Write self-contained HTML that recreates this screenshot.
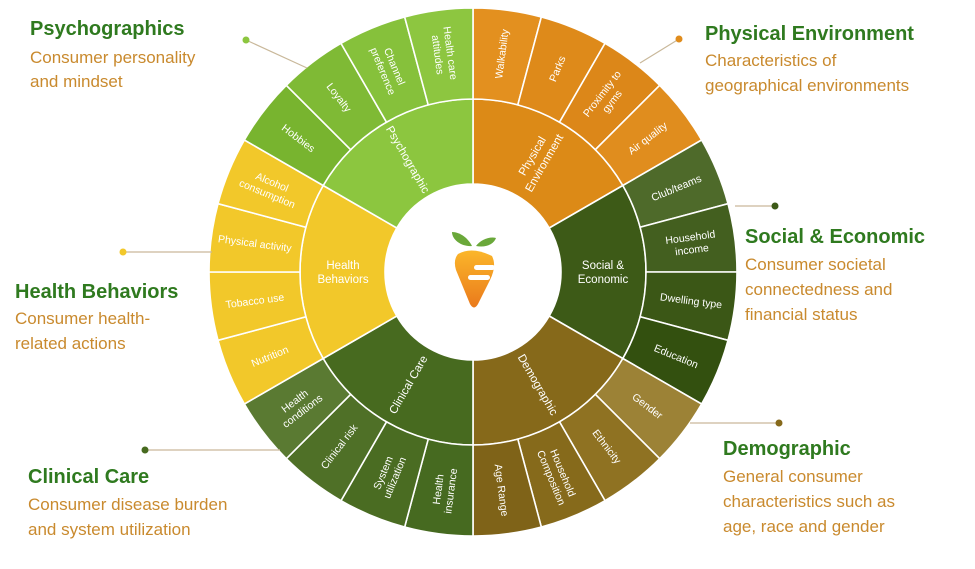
<!DOCTYPE html>
<html><head><meta charset="utf-8"><style>
html,body{margin:0;padding:0;background:#fff;}
svg{display:block;font-family:"Liberation Sans",sans-serif;}
.t{font-weight:bold;font-size:20px;fill:#2f7a1f;}
.s{font-size:17px;fill:#c98a2e;}
</style></head><body>
<svg id="s" width="975" height="569" viewBox="0 0 975 569" xmlns="http://www.w3.org/2000/svg">
<defs>
<linearGradient id="cg" x1="0" y1="0" x2="0" y2="1"><stop offset="0" stop-color="#fbb62a"/><stop offset="1" stop-color="#ea7a1c"/></linearGradient>
</defs>
<g id="ring"></g>
<circle cx="473" cy="272" r="88" fill="#fff"/>
<!-- carrot -->
<path d="M452,232 C452,240 462,247 472,246 C468,238 460,232 452,232Z" fill="#6aa83a"/>
<path d="M496,238 C490,236 480,240 476,246 C486,248 494,244 496,238Z" fill="#6aa83a"/>
<path d="M458,254 Q472,246 492,256 Q497,266 490,280 L478,304 Q474,311 470,304 L456,270 Q453,260 458,254Z" fill="url(#cg)"/>
<rect x="474" y="265" width="21" height="5" rx="2.5" fill="#fff"/>
<rect x="468" y="275" width="22" height="5" rx="2.5" fill="#fff"/>
<g id="lbl"></g>
<!-- callouts -->
<g stroke="#c9b89a" stroke-width="1.2">
<line x1="246" y1="40" x2="307" y2="68"/><line x1="679" y1="39" x2="640" y2="63"/>
<line x1="775" y1="206" x2="735" y2="206"/><line x1="779" y1="423" x2="690" y2="423"/>
<line x1="145" y1="450" x2="280" y2="450"/><line x1="123" y1="252" x2="212" y2="252"/>
</g>
<circle cx="246" cy="40" r="3.5" fill="#8cc63f"/><circle cx="679" cy="39" r="3.5" fill="#e08c1c"/>
<circle cx="775" cy="206" r="3.5" fill="#3d5a17"/><circle cx="779" cy="423" r="3.5" fill="#86691a"/>
<circle cx="145" cy="450" r="3.5" fill="#476a1f"/><circle cx="123" cy="252" r="3.5" fill="#f2c82a"/>
<text class="t" x="30" y="35">Psychographics</text>
<text class="s" x="30" y="63">Consumer personality</text><text class="s" x="30" y="87">and mindset</text>
<text class="t" x="705" y="40">Physical Environment</text>
<text class="s" x="705" y="66">Characteristics of</text><text class="s" x="705" y="91">geographical environments</text>
<text class="t" x="745" y="243">Social &amp; Economic</text>
<text class="s" x="745" y="270">Consumer societal</text><text class="s" x="745" y="295">connectedness and</text><text class="s" x="745" y="320">financial status</text>
<text class="t" x="15" y="298">Health Behaviors</text>
<text class="s" x="15" y="324">Consumer health-</text><text class="s" x="15" y="349">related actions</text>
<text class="t" x="723" y="455">Demographic</text>
<text class="s" x="723" y="482">General consumer</text><text class="s" x="723" y="507">characteristics such as</text><text class="s" x="723" y="532">age, race and gender</text>
<text class="t" x="28" y="483">Clinical Care</text>
<text class="s" x="28" y="510">Consumer disease burden</text><text class="s" x="28" y="535">and system utilization</text>
</svg>
<script>
var cx=473,cy=272,R0=88,R1=173,R2=264,NS="http://www.w3.org/2000/svg";
function pt(r,a){a=a*Math.PI/180;return [cx+r*Math.sin(a),cy-r*Math.cos(a)];}
function arc(r1,r2,a1,a2){var p1=pt(r2,a1),p2=pt(r2,a2),p3=pt(r1,a2),p4=pt(r1,a1);
return "M"+p1+"A"+r2+","+r2+" 0 0 1 "+p2+"L"+p3+"A"+r1+","+r1+" 0 0 0 "+p4+"Z";}
var secs=[
["Physical\nEnvironment","#dc8a17",[["Walkability","#e3901f"],["Parks","#de8a1a"],["Proximity to\ngyms","#dc8719"],["Air quality","#e08d1e"]]],
["Social &\nEconomic","#3d5a17",[["Club/teams","#4e6a2a"],["Household\nincome","#435f1f"],["Dwelling type","#3b5716"],["Education","#33500f"]]],
["Demographic","#86691a",[["Gender","#9c8236"],["Ethnicity","#8f7222"],["Household\nComposition","#866a1b"],["Age Range","#7f6318"]]],
["Clinical Care","#476a1f",[["Health\ninsurance","#466a20"],["System\nutilization","#4a6c22"],["Clinical risk","#4f7027"],["Health\nconditions","#5a7a32"]]],
["Health\nBehaviors","#f2c82a",[["Nutrition","#f2c82a"],["Tobacco use","#f2c82a"],["Physical activity","#f2c82a"],["Alcohol\nconsumption","#f2c82a"]]],
["Psychographic","#8cc63f",[["Hobbies","#78b42f"],["Loyalty","#7fba35"],["Channel\npreference","#86c13b"],["Health care\nattitudes","#8dc640"]]]];
var ring=document.getElementById("ring"),lbl=document.getElementById("lbl");
function addPath(d,f){var p=document.createElementNS(NS,"path");p.setAttribute("d",d);p.setAttribute("fill",f);p.setAttribute("stroke","#fff");p.setAttribute("stroke-width","1.6");ring.appendChild(p);}
function addText(s,r,a,fs){var p=pt(r,a);var rot=(a<180)?a-90:a-270;
var t=document.createElementNS(NS,"text");t.setAttribute("transform","translate("+p[0]+","+p[1]+") rotate("+rot+")");
t.setAttribute("fill","#fff");t.setAttribute("font-size",fs);t.setAttribute("text-anchor","middle");
var L=s.split("\n");L.forEach(function(l,i){var ts=document.createElementNS(NS,"tspan");ts.setAttribute("x",0);
ts.setAttribute("y",(i-(L.length-1)/2)*fs*1.2+fs*0.35);ts.textContent=l;t.appendChild(ts);});lbl.appendChild(t);}
secs.forEach(function(s,i){var a0=i*60;addPath(arc(R0,R1,a0,a0+60),s[1]);addText(s[0],130,a0+30,11.5);
s[2].forEach(function(o,j){var b=a0+j*15;addPath(arc(R1,R2,b,b+15),o[1]);addText(o[0],220,b+7.5,10.5);});});
</script>
</body></html>
